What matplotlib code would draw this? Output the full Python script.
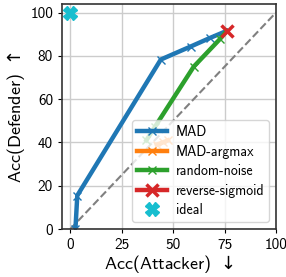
import matplotlib
matplotlib.use("Agg")
import matplotlib.pyplot as plt

plt.rcParams['font.family'] = ['cmss10', 'DejaVu Sans']
plt.rcParams['axes.unicode_minus'] = False

# values
mad_x = [2.5, 3.4, 44, 58.5, 68, 76]
mad_y = [0, 15.5, 78.3, 84.3, 88.3, 91.5]
argmax_x = [42, 45, 47.5]
argmax_y = [39, 40, 41]
noise_x = [37, 41, 60, 73, 76]
noise_y = [41, 47, 75, 88, 91.5]
rs_x = [76]
rs_y = [91.5]
ideal_x = [0]
ideal_y = [100]

fig = plt.figure(figsize=(2.86, 2.77), dpi=100)
ax = fig.add_axes([0.217, 0.173, 0.748, 0.813])

ax.plot([0, 100], [0, 100], '--', color='gray', lw=1.5, zorder=1)
ax.plot(mad_x, mad_y, marker='x', ms=6, lw=3.2, color='tab:blue', label='MAD')
ax.plot(argmax_x, argmax_y, marker='x', ms=6, lw=3.2, color='tab:orange', label='MAD-argmax')
ax.plot(noise_x, noise_y, marker='x', ms=6, lw=3.2, color='tab:green', label='random-noise')
ax.plot(rs_x, rs_y, marker='x', ms=8, mew=2.5, lw=3.2, color='tab:red', label='reverse-sigmoid')
ax.plot(ideal_x, ideal_y, marker='X', ms=10, lw=0, color='tab:cyan', label='ideal')

ax.set_xlim(-4, 100)
ax.set_ylim(0, 104)
ax.set_xticks([0, 25, 50, 75, 100])
ax.set_yticks([0, 20, 40, 60, 80, 100])
ax.tick_params(labelsize=11, length=3)
ax.grid(True, color='#cccccc', lw=1)
ax.set_axisbelow(True)
for s in ax.spines.values():
    s.set_linewidth(1.2)
    s.set_color('#333333')

ax.set_xlabel('Acc(Attacker) $\\downarrow$', fontsize=13, labelpad=1)
ax.set_ylabel('Acc(Defender) $\\uparrow$', fontsize=13, labelpad=2)
ax.legend(loc='lower right', fontsize=10, handlelength=2.2, borderaxespad=0.5,
          labelspacing=0.4, handletextpad=0.6, borderpad=0.35)

fig.savefig('out.png', dpi=100)
